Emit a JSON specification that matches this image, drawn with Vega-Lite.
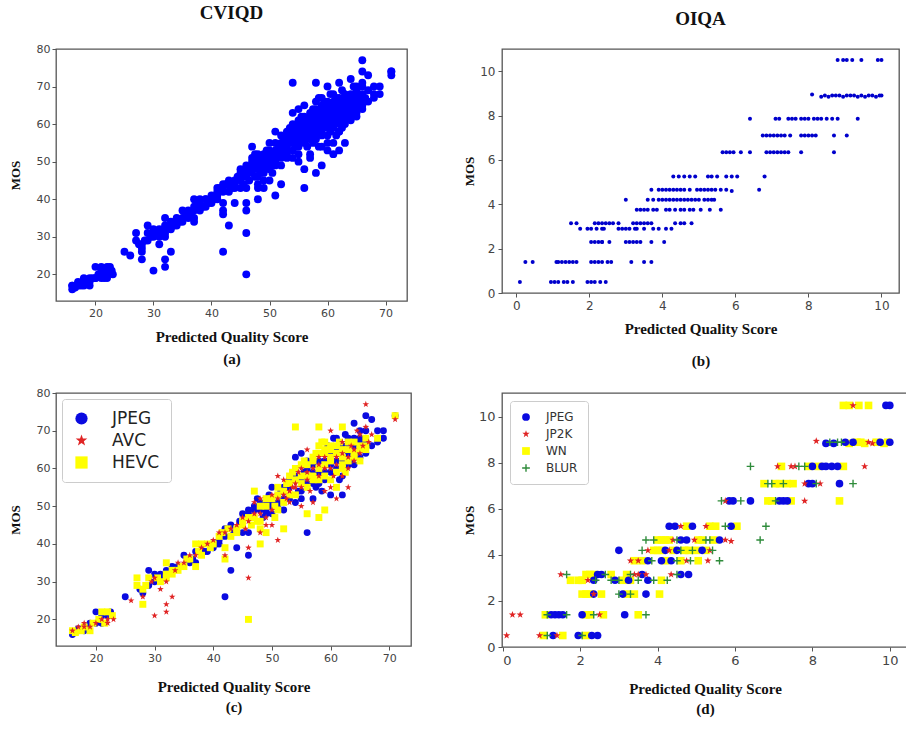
{
"$schema": "https://vega.github.io/schema/vega-lite/v6.json",
"padding": {"left": 8, "top": 3, "right": 0, "bottom": 0},
"config": {
 "view": {"stroke": "#555", "strokeWidth": 1.3},
 "axis": {"domain": false, "grid": false, "tickColor": "#555", "tickSize": 4, "labelColor": "#444", "labelFont": "DejaVu Sans", "labelFontSize": 11, "titleFont": "Liberation Serif", "titleFontWeight": "bold", "titleFontSize": 15, "titleColor": "#111"},
 "title": {"font": "Liberation Serif", "fontWeight": "bold", "fontSize": 19, "color": "#111"}
},
"datasets": {
"cv": [
{"x":16,"y":16,"t":"JPEG"},{"x":16,"y":17,"t":"AVC"},{"x":16.5,"y":16.5,"t":"HEVC"},{"x":16,"y":17,"t":"HEVC"},
{"x":17,"y":17,"t":"JPEG"},{"x":17,"y":18,"t":"AVC"},{"x":17.5,"y":17,"t":"HEVC"},{"x":17,"y":17.5,"t":"JPEG"},
{"x":18,"y":17,"t":"JPEG"},{"x":18,"y":19,"t":"AVC"},{"x":18,"y":18,"t":"HEVC"},{"x":18.5,"y":18,"t":"JPEG"},{"x":18,"y":18,"t":"AVC"},
{"x":19,"y":19,"t":"JPEG"},{"x":19,"y":17,"t":"HEVC"},{"x":19,"y":18,"t":"AVC"},{"x":19.5,"y":19,"t":"HEVC"},
{"x":20,"y":22,"t":"JPEG"},{"x":20,"y":19,"t":"JPEG"},{"x":20,"y":19,"t":"AVC"},{"x":20.5,"y":20,"t":"HEVC"},
{"x":21,"y":21,"t":"JPEG"},{"x":21,"y":22,"t":"HEVC"},{"x":21,"y":20,"t":"AVC"},{"x":21.5,"y":19,"t":"HEVC"},{"x":21,"y":19,"t":"JPEG"},
{"x":22,"y":22,"t":"HEVC"},{"x":22,"y":20,"t":"AVC"},{"x":22,"y":21,"t":"JPEG"},{"x":22,"y":19,"t":"AVC"},{"x":22.5,"y":22,"t":"JPEG"},
{"x":23,"y":20,"t":"AVC"},{"x":22.8,"y":21,"t":"HEVC"},
{"x":25,"y":26,"t":"JPEG"},{"x":26,"y":25,"t":"AVC"},
{"x":27,"y":31,"t":"HEVC"},{"x":27,"y":29,"t":"HEVC"},{"x":27.5,"y":28,"t":"JPEG"},
{"x":28,"y":28,"t":"HEVC"},{"x":28,"y":27,"t":"JPEG"},{"x":28,"y":24,"t":"HEVC"},{"x":28,"y":26,"t":"AVC"},{"x":28.5,"y":29,"t":"HEVC"},
{"x":29,"y":33,"t":"JPEG"},{"x":29,"y":29,"t":"JPEG"},{"x":29,"y":31,"t":"HEVC"},{"x":29.5,"y":30,"t":"AVC"},
{"x":30,"y":30,"t":"JPEG"},{"x":30,"y":32,"t":"JPEG"},{"x":30,"y":21,"t":"AVC"},{"x":30.5,"y":31,"t":"HEVC"},{"x":30,"y":31,"t":"AVC"},
{"x":31,"y":32,"t":"JPEG"},{"x":31,"y":28,"t":"AVC"},{"x":31,"y":30,"t":"HEVC"},{"x":31.5,"y":31,"t":"JPEG"},
{"x":32,"y":30,"t":"AVC"},{"x":32,"y":35,"t":"HEVC"},{"x":32,"y":31,"t":"HEVC"},{"x":32,"y":24,"t":"AVC"},{"x":32,"y":22,"t":"AVC"},{"x":32,"y":33,"t":"JPEG"},{"x":32,"y":32,"t":"HEVC"},
{"x":33,"y":26,"t":"AVC"},{"x":33,"y":34,"t":"JPEG"},{"x":33,"y":33,"t":"HEVC"},{"x":33,"y":32,"t":"HEVC"},{"x":33.5,"y":33,"t":"AVC"},
{"x":34,"y":34,"t":"JPEG"},{"x":34,"y":33,"t":"HEVC"},{"x":34,"y":35,"t":"AVC"},{"x":34.5,"y":34,"t":"HEVC"},
{"x":35,"y":37,"t":"JPEG"},{"x":35,"y":34,"t":"HEVC"},{"x":35,"y":35,"t":"AVC"},{"x":35.5,"y":36,"t":"HEVC"},
{"x":36,"y":35,"t":"JPEG"},{"x":36,"y":36,"t":"HEVC"},{"x":36,"y":37,"t":"AVC"},{"x":36.5,"y":36,"t":"JPEG"},
{"x":37,"y":35,"t":"JPEG"},{"x":37,"y":40,"t":"HEVC"},{"x":37,"y":34,"t":"HEVC"},{"x":37,"y":38,"t":"JPEG"},{"x":37,"y":37,"t":"AVC"},{"x":37.5,"y":38,"t":"HEVC"},
{"x":38,"y":38,"t":"JPEG"},{"x":38,"y":39,"t":"AVC"},{"x":38,"y":37,"t":"HEVC"},{"x":38.5,"y":38,"t":"JPEG"},{"x":38,"y":40,"t":"HEVC"},
{"x":39,"y":40,"t":"HEVC"},{"x":39,"y":38,"t":"JPEG"},{"x":39,"y":40,"t":"AVC"},{"x":39.5,"y":39,"t":"HEVC"},
{"x":40,"y":40,"t":"HEVC"},{"x":40,"y":39,"t":"JPEG"},{"x":40,"y":41,"t":"AVC"},{"x":40.5,"y":40,"t":"JPEG"},
{"x":41,"y":40,"t":"JPEG"},{"x":41,"y":41,"t":"JPEG"},{"x":41,"y":43,"t":"AVC"},{"x":41,"y":42,"t":"HEVC"},{"x":41.5,"y":43,"t":"HEVC"},
{"x":42,"y":43,"t":"AVC"},{"x":42,"y":44,"t":"JPEG"},{"x":42,"y":42,"t":"JPEG"},{"x":42,"y":36,"t":"HEVC"},{"x":42,"y":37,"t":"AVC"},{"x":42,"y":26,"t":"JPEG"},{"x":42,"y":39,"t":"HEVC"},{"x":42.5,"y":44,"t":"HEVC"},
{"x":43,"y":45,"t":"JPEG"},{"x":43,"y":33,"t":"JPEG"},{"x":43,"y":42,"t":"HEVC"},{"x":43,"y":44,"t":"AVC"},{"x":43.5,"y":43,"t":"JPEG"},
{"x":44,"y":39,"t":"JPEG"},{"x":44,"y":44,"t":"HEVC"},{"x":44,"y":45,"t":"AVC"},{"x":44,"y":43,"t":"HEVC"},{"x":44.5,"y":46,"t":"JPEG"},
{"x":45,"y":48,"t":"JPEG"},{"x":45,"y":43,"t":"JPEG"},{"x":45,"y":45,"t":"HEVC"},{"x":45,"y":47,"t":"AVC"},{"x":45,"y":46,"t":"HEVC"},{"x":45.5,"y":44,"t":"AVC"},
{"x":46,"y":49,"t":"JPEG"},{"x":46,"y":43,"t":"JPEG"},{"x":46,"y":39,"t":"AVC"},{"x":46,"y":37,"t":"JPEG"},{"x":46,"y":31,"t":"AVC"},{"x":46,"y":20,"t":"HEVC"},{"x":46,"y":46,"t":"AVC"},{"x":46,"y":47,"t":"HEVC"},{"x":46.5,"y":45,"t":"HEVC"},{"x":46,"y":48,"t":"JPEG"},
{"x":47,"y":51,"t":"AVC"},{"x":47,"y":54,"t":"HEVC"},{"x":47,"y":47,"t":"HEVC"},{"x":47,"y":49,"t":"JPEG"},{"x":47,"y":50,"t":"JPEG"},{"x":47,"y":48,"t":"AVC"},{"x":47.5,"y":46,"t":"HEVC"},{"x":47.5,"y":52,"t":"JPEG"},
{"x":48,"y":46,"t":"HEVC"},{"x":48,"y":44,"t":"HEVC"},{"x":48,"y":40,"t":"HEVC"},{"x":48,"y":43,"t":"AVC"},{"x":48,"y":49,"t":"JPEG"},{"x":48,"y":50,"t":"HEVC"},{"x":48,"y":51,"t":"JPEG"},{"x":48,"y":48,"t":"AVC"},{"x":48,"y":52,"t":"AVC"},{"x":48.5,"y":47,"t":"JPEG"},
{"x":49,"y":43,"t":"HEVC"},{"x":49,"y":49,"t":"JPEG"},{"x":49,"y":48,"t":"JPEG"},{"x":49,"y":45,"t":"AVC"},{"x":49,"y":50,"t":"HEVC"},{"x":49,"y":51,"t":"JPEG"},{"x":49,"y":52,"t":"HEVC"},{"x":49,"y":47,"t":"AVC"},{"x":49.5,"y":53,"t":"JPEG"},
{"x":50,"y":50,"t":"JPEG"},{"x":50,"y":48,"t":"JPEG"},{"x":50,"y":51,"t":"JPEG"},{"x":50,"y":55,"t":"JPEG"},{"x":50,"y":45,"t":"AVC"},{"x":50,"y":52,"t":"HEVC"},{"x":50,"y":49,"t":"AVC"},{"x":50,"y":53,"t":"AVC"},{"x":50.5,"y":50,"t":"HEVC"},{"x":50.5,"y":47,"t":"HEVC"},
{"x":51,"y":51,"t":"JPEG"},{"x":51,"y":50,"t":"JPEG"},{"x":51,"y":41,"t":"AVC"},{"x":51,"y":58,"t":"AVC"},{"x":51,"y":53,"t":"HEVC"},{"x":51,"y":52,"t":"AVC"},{"x":51,"y":55,"t":"HEVC"},{"x":51,"y":49,"t":"HEVC"},{"x":51.5,"y":54,"t":"JPEG"},
{"x":52,"y":44,"t":"HEVC"},{"x":52,"y":49,"t":"JPEG"},{"x":52,"y":57,"t":"AVC"},{"x":52,"y":52,"t":"JPEG"},{"x":52,"y":54,"t":"HEVC"},{"x":52,"y":53,"t":"AVC"},{"x":52,"y":55,"t":"JPEG"},{"x":52,"y":51,"t":"HEVC"},{"x":52.5,"y":56,"t":"HEVC"},{"x":52.5,"y":52,"t":"AVC"},
{"x":53,"y":52,"t":"JPEG"},{"x":53,"y":54,"t":"AVC"},{"x":53,"y":56,"t":"HEVC"},{"x":53,"y":53,"t":"HEVC"},{"x":53,"y":55,"t":"JPEG"},{"x":53,"y":58,"t":"HEVC"},{"x":53,"y":57,"t":"JPEG"},{"x":53,"y":51,"t":"AVC"},{"x":53.5,"y":55,"t":"AVC"},{"x":53.5,"y":59,"t":"HEVC"},
{"x":54,"y":71,"t":"HEVC"},{"x":54,"y":63,"t":"JPEG"},{"x":54,"y":51,"t":"JPEG"},{"x":54,"y":55,"t":"AVC"},{"x":54,"y":57,"t":"HEVC"},{"x":54,"y":58,"t":"JPEG"},{"x":54,"y":56,"t":"AVC"},{"x":54,"y":60,"t":"HEVC"},{"x":54,"y":53,"t":"HEVC"},{"x":54.5,"y":59,"t":"AVC"},{"x":54.5,"y":54,"t":"JPEG"},
{"x":55,"y":64,"t":"JPEG"},{"x":55,"y":52,"t":"JPEG"},{"x":55,"y":54,"t":"JPEG"},{"x":55,"y":50,"t":"AVC"},{"x":55,"y":57,"t":"JPEG"},{"x":55,"y":58,"t":"HEVC"},{"x":55,"y":60,"t":"AVC"},{"x":55,"y":56,"t":"HEVC"},{"x":55,"y":61,"t":"HEVC"},{"x":55,"y":55,"t":"AVC"},{"x":55.5,"y":59,"t":"JPEG"},{"x":55.5,"y":62,"t":"HEVC"},
{"x":56,"y":43,"t":"JPEG"},{"x":56,"y":48,"t":"HEVC"},{"x":56,"y":65,"t":"AVC"},{"x":56,"y":56,"t":"JPEG"},{"x":56,"y":58,"t":"HEVC"},{"x":56,"y":60,"t":"JPEG"},{"x":56,"y":57,"t":"AVC"},{"x":56,"y":59,"t":"AVC"},{"x":56,"y":61,"t":"HEVC"},{"x":56,"y":55,"t":"HEVC"},{"x":56,"y":62,"t":"JPEG"},{"x":56.5,"y":54,"t":"AVC"},
{"x":57,"y":52,"t":"JPEG"},{"x":57,"y":51,"t":"AVC"},{"x":57,"y":56,"t":"JPEG"},{"x":57,"y":58,"t":"HEVC"},{"x":57,"y":60,"t":"AVC"},{"x":57,"y":62,"t":"HEVC"},{"x":57,"y":59,"t":"JPEG"},{"x":57,"y":57,"t":"HEVC"},{"x":57,"y":61,"t":"JPEG"},{"x":57,"y":63,"t":"HEVC"},{"x":57.5,"y":55,"t":"JPEG"},{"x":57.5,"y":64,"t":"HEVC"},
{"x":58,"y":71,"t":"HEVC"},{"x":58,"y":47,"t":"HEVC"},{"x":58,"y":56,"t":"JPEG"},{"x":58,"y":58,"t":"AVC"},{"x":58,"y":60,"t":"HEVC"},{"x":58,"y":62,"t":"JPEG"},{"x":58,"y":64,"t":"HEVC"},{"x":58,"y":66,"t":"HEVC"},{"x":58,"y":59,"t":"JPEG"},{"x":58,"y":61,"t":"AVC"},{"x":58,"y":63,"t":"AVC"},{"x":58,"y":57,"t":"HEVC"},{"x":58.5,"y":67,"t":"HEVC"},{"x":58.5,"y":54,"t":"JPEG"},
{"x":59,"y":49,"t":"HEVC"},{"x":59,"y":57,"t":"JPEG"},{"x":59,"y":54,"t":"AVC"},{"x":59,"y":59,"t":"JPEG"},{"x":59,"y":61,"t":"HEVC"},{"x":59,"y":63,"t":"AVC"},{"x":59,"y":65,"t":"HEVC"},{"x":59,"y":60,"t":"AVC"},{"x":59,"y":62,"t":"JPEG"},{"x":59,"y":64,"t":"HEVC"},{"x":59,"y":67,"t":"HEVC"},{"x":59,"y":58,"t":"HEVC"},{"x":59.5,"y":66,"t":"JPEG"},
{"x":60,"y":59,"t":"JPEG"},{"x":60,"y":61,"t":"JPEG"},{"x":60,"y":53,"t":"JPEG"},{"x":60,"y":70,"t":"AVC"},{"x":60,"y":55,"t":"AVC"},{"x":60,"y":63,"t":"HEVC"},{"x":60,"y":65,"t":"HEVC"},{"x":60,"y":60,"t":"AVC"},{"x":60,"y":62,"t":"HEVC"},{"x":60,"y":64,"t":"JPEG"},{"x":60,"y":66,"t":"HEVC"},{"x":60,"y":57,"t":"HEVC"},{"x":60.5,"y":68,"t":"JPEG"},{"x":60.5,"y":58,"t":"AVC"},
{"x":61,"y":52,"t":"AVC"},{"x":61,"y":55,"t":"HEVC"},{"x":61,"y":60,"t":"JPEG"},{"x":61,"y":62,"t":"JPEG"},{"x":61,"y":64,"t":"HEVC"},{"x":61,"y":66,"t":"HEVC"},{"x":61,"y":61,"t":"AVC"},{"x":61,"y":63,"t":"AVC"},{"x":61,"y":65,"t":"JPEG"},{"x":61,"y":59,"t":"HEVC"},{"x":61,"y":68,"t":"JPEG"},{"x":61.5,"y":67,"t":"HEVC"},{"x":61.5,"y":57,"t":"JPEG"},
{"x":62,"y":53,"t":"JPEG"},{"x":62,"y":71,"t":"HEVC"},{"x":62,"y":58,"t":"JPEG"},{"x":62,"y":58,"t":"AVC"},{"x":62,"y":60,"t":"HEVC"},{"x":62,"y":62,"t":"JPEG"},{"x":62,"y":64,"t":"AVC"},{"x":62,"y":66,"t":"JPEG"},{"x":62,"y":61,"t":"HEVC"},{"x":62,"y":63,"t":"HEVC"},{"x":62,"y":65,"t":"HEVC"},{"x":62,"y":67,"t":"AVC"},{"x":62.5,"y":69,"t":"JPEG"},{"x":62.5,"y":59,"t":"HEVC"},
{"x":63,"y":55,"t":"AVC"},{"x":63,"y":64,"t":"JPEG"},{"x":63,"y":66,"t":"JPEG"},{"x":63,"y":61,"t":"JPEG"},{"x":63,"y":60,"t":"AVC"},{"x":63,"y":62,"t":"HEVC"},{"x":63,"y":63,"t":"AVC"},{"x":63,"y":65,"t":"HEVC"},{"x":63,"y":67,"t":"HEVC"},{"x":63,"y":68,"t":"JPEG"},{"x":63.5,"y":66,"t":"AVC"},{"x":63.5,"y":62,"t":"JPEG"},
{"x":64,"y":72,"t":"JPEG"},{"x":64,"y":61,"t":"JPEG"},{"x":64,"y":63,"t":"HEVC"},{"x":64,"y":65,"t":"AVC"},{"x":64,"y":66,"t":"JPEG"},{"x":64,"y":64,"t":"HEVC"},{"x":64,"y":67,"t":"HEVC"},{"x":64,"y":68,"t":"JPEG"},{"x":64,"y":62,"t":"AVC"},{"x":64.5,"y":70,"t":"AVC"},{"x":64.5,"y":64,"t":"JPEG"},
{"x":65,"y":63,"t":"JPEG"},{"x":65,"y":68,"t":"JPEG"},{"x":65,"y":66,"t":"HEVC"},{"x":65,"y":64,"t":"AVC"},{"x":65,"y":65,"t":"HEVC"},{"x":65,"y":67,"t":"JPEG"},{"x":65,"y":69,"t":"AVC"},{"x":65,"y":70,"t":"JPEG"},{"x":65,"y":62,"t":"HEVC"},{"x":65.5,"y":66,"t":"AVC"},
{"x":66,"y":74,"t":"JPEG"},{"x":66,"y":77,"t":"AVC"},{"x":66,"y":70,"t":"JPEG"},{"x":66,"y":66,"t":"HEVC"},{"x":66,"y":65,"t":"HEVC"},{"x":66,"y":67,"t":"JPEG"},{"x":66,"y":68,"t":"HEVC"},{"x":66,"y":71,"t":"AVC"},{"x":66,"y":64,"t":"JPEG"},{"x":66.5,"y":67,"t":"AVC"},
{"x":67,"y":73,"t":"JPEG"},{"x":67,"y":66,"t":"JPEG"},{"x":67,"y":69,"t":"AVC"},
{"x":68,"y":70,"t":"JPEG"},{"x":68,"y":67,"t":"JPEG"},{"x":68,"y":68,"t":"HEVC"},
{"x":69,"y":70,"t":"JPEG"},{"x":69,"y":68,"t":"JPEG"},
{"x":71,"y":74,"t":"HEVC"},{"x":71,"y":73,"t":"AVC"},{"x":71,"y":74,"t":"JPEG"}
],
"oi": [
{"x":0.1,"y":0.5,"t":"JP2K"},{"x":0.95,"y":0.5,"t":"JP2K"},{"x":1.05,"y":0.5,"t":"WN"},{"x":1.15,"y":0.5,"t":"BLUR"},{"x":1.3,"y":0.5,"t":"JPEG"},{"x":1.4,"y":0.5,"t":"JP2K"},{"x":1.55,"y":0.5,"t":"WN"},{"x":1.95,"y":0.5,"t":"JPEG"},{"x":2.05,"y":0.5,"t":"BLUR"},{"x":2.15,"y":0.5,"t":"WN"},{"x":2.3,"y":0.5,"t":"JPEG"},{"x":2.45,"y":0.5,"t":"JPEG"},
{"x":0.25,"y":1.4,"t":"JP2K"},{"x":0.45,"y":1.4,"t":"JP2K"},{"x":1.1,"y":1.4,"t":"WN"},{"x":1.15,"y":1.4,"t":"BLUR"},{"x":1.25,"y":1.4,"t":"JPEG"},{"x":1.35,"y":1.4,"t":"JPEG"},{"x":1.45,"y":1.4,"t":"JPEG"},{"x":1.55,"y":1.4,"t":"JPEG"},{"x":1.65,"y":1.4,"t":"BLUR"},{"x":2.05,"y":1.4,"t":"JPEG"},{"x":2.15,"y":1.4,"t":"WN"},{"x":2.25,"y":1.4,"t":"WN"},{"x":2.35,"y":1.4,"t":"BLUR"},{"x":2.5,"y":1.4,"t":"JP2K"},{"x":2.6,"y":1.4,"t":"WN"},{"x":3.15,"y":1.4,"t":"JPEG"},{"x":3.5,"y":1.4,"t":"WN"},{"x":3.7,"y":1.4,"t":"BLUR"},
{"x":2.05,"y":2.3,"t":"WN"},{"x":2.15,"y":2.3,"t":"WN"},{"x":2.25,"y":2.3,"t":"WN"},{"x":2.35,"y":2.3,"t":"JP2K"},{"x":2.35,"y":2.3,"t":"JPEG"},{"x":2.55,"y":2.3,"t":"WN"},{"x":3.0,"y":2.3,"t":"BLUR"},{"x":3.1,"y":2.3,"t":"JPEG"},{"x":3.2,"y":2.3,"t":"WN"},{"x":3.3,"y":2.3,"t":"BLUR"},{"x":3.4,"y":2.3,"t":"WN"},{"x":3.7,"y":2.3,"t":"JPEG"},{"x":4.05,"y":2.3,"t":"WN"},
{"x":1.75,"y":2.9,"t":"WN"},{"x":1.95,"y":2.9,"t":"WN"},{"x":2.05,"y":2.9,"t":"WN"},{"x":2.2,"y":2.9,"t":"JP2K"},{"x":2.35,"y":2.9,"t":"JPEG"},{"x":2.4,"y":2.9,"t":"BLUR"},{"x":2.8,"y":2.9,"t":"BLUR"},{"x":2.9,"y":2.9,"t":"JPEG"},{"x":3.0,"y":2.9,"t":"BLUR"},{"x":3.1,"y":2.9,"t":"WN"},{"x":3.25,"y":2.9,"t":"JPEG"},{"x":3.3,"y":2.9,"t":"WN"},{"x":3.5,"y":2.9,"t":"BLUR"},{"x":3.75,"y":2.9,"t":"JPEG"},{"x":3.9,"y":2.9,"t":"BLUR"},{"x":4.1,"y":2.9,"t":"WN"},{"x":4.25,"y":2.9,"t":"BLUR"},
{"x":1.5,"y":3.15,"t":"JP2K"},{"x":1.65,"y":3.15,"t":"BLUR"},{"x":2.15,"y":3.15,"t":"WN"},{"x":2.25,"y":3.15,"t":"WN"},{"x":2.35,"y":3.15,"t":"WN"},{"x":2.45,"y":3.15,"t":"JPEG"},{"x":2.55,"y":3.15,"t":"JPEG"},{"x":2.65,"y":3.15,"t":"BLUR"},{"x":2.8,"y":3.15,"t":"WN"},{"x":3.2,"y":3.15,"t":"WN"},{"x":3.3,"y":3.15,"t":"BLUR"},{"x":3.4,"y":3.15,"t":"JP2K"},{"x":3.5,"y":3.15,"t":"JP2K"},{"x":3.6,"y":3.15,"t":"JPEG"},{"x":3.7,"y":3.15,"t":"JP2K"},{"x":4.35,"y":3.15,"t":"JP2K"},{"x":4.5,"y":3.15,"t":"BLUR"},{"x":4.6,"y":3.15,"t":"JPEG"},{"x":4.8,"y":3.15,"t":"JPEG"},
{"x":3.3,"y":3.75,"t":"JP2K"},{"x":3.4,"y":3.75,"t":"WN"},{"x":3.5,"y":3.75,"t":"JP2K"},{"x":3.6,"y":3.75,"t":"WN"},{"x":3.75,"y":3.75,"t":"JPEG"},{"x":3.85,"y":3.75,"t":"BLUR"},{"x":4.1,"y":3.75,"t":"JPEG"},{"x":4.2,"y":3.75,"t":"WN"},{"x":4.35,"y":3.75,"t":"JPEG"},{"x":4.5,"y":3.75,"t":"BLUR"},{"x":4.6,"y":3.75,"t":"WN"},{"x":4.75,"y":3.75,"t":"JP2K"},{"x":4.85,"y":3.75,"t":"BLUR"},{"x":5.05,"y":3.75,"t":"WN"},{"x":5.3,"y":3.75,"t":"JP2K"},{"x":5.6,"y":3.75,"t":"BLUR"},
{"x":3.0,"y":4.2,"t":"JPEG"},{"x":3.6,"y":4.2,"t":"BLUR"},{"x":3.75,"y":4.2,"t":"JP2K"},{"x":3.9,"y":4.2,"t":"WN"},{"x":4.0,"y":4.2,"t":"WN"},{"x":4.1,"y":4.2,"t":"WN"},{"x":4.2,"y":4.2,"t":"JPEG"},{"x":4.3,"y":4.2,"t":"JP2K"},{"x":4.4,"y":4.2,"t":"WN"},{"x":4.5,"y":4.2,"t":"JPEG"},{"x":4.6,"y":4.2,"t":"BLUR"},{"x":4.7,"y":4.2,"t":"WN"},{"x":4.8,"y":4.2,"t":"WN"},{"x":4.9,"y":4.2,"t":"BLUR"},{"x":5.0,"y":4.2,"t":"WN"},{"x":5.15,"y":4.2,"t":"JPEG"},{"x":5.25,"y":4.2,"t":"WN"},{"x":5.35,"y":4.2,"t":"JP2K"},{"x":5.42,"y":4.2,"t":"BLUR"},
{"x":3.7,"y":4.65,"t":"BLUR"},{"x":3.9,"y":4.65,"t":"BLUR"},{"x":4.0,"y":4.65,"t":"WN"},{"x":4.1,"y":4.65,"t":"WN"},{"x":4.2,"y":4.65,"t":"WN"},{"x":4.3,"y":4.65,"t":"WN"},{"x":4.4,"y":4.65,"t":"JP2K"},{"x":4.5,"y":4.65,"t":"BLUR"},{"x":4.6,"y":4.65,"t":"JPEG"},{"x":4.75,"y":4.65,"t":"JPEG"},{"x":4.95,"y":4.65,"t":"JP2K"},{"x":5.05,"y":4.65,"t":"WN"},{"x":5.15,"y":4.65,"t":"WN"},{"x":5.25,"y":4.65,"t":"BLUR"},{"x":5.35,"y":4.65,"t":"BLUR"},{"x":5.45,"y":4.65,"t":"WN"},{"x":5.6,"y":4.65,"t":"JPEG"},{"x":5.75,"y":4.65,"t":"JP2K"},{"x":5.9,"y":4.6,"t":"JP2K"},{"x":6.65,"y":4.65,"t":"BLUR"},
{"x":4.3,"y":5.25,"t":"JPEG"},{"x":4.45,"y":5.25,"t":"JPEG"},{"x":4.6,"y":5.25,"t":"JP2K"},{"x":4.75,"y":5.25,"t":"WN"},{"x":4.9,"y":5.25,"t":"JPEG"},{"x":5.25,"y":5.25,"t":"JP2K"},{"x":5.35,"y":5.25,"t":"WN"},{"x":5.5,"y":5.25,"t":"WN"},{"x":5.75,"y":5.25,"t":"BLUR"},{"x":5.9,"y":5.25,"t":"JPEG"},{"x":6.05,"y":5.25,"t":"WN"},{"x":6.8,"y":5.25,"t":"BLUR"},
{"x":5.65,"y":6.35,"t":"BLUR"},{"x":5.75,"y":6.35,"t":"JP2K"},{"x":5.85,"y":6.35,"t":"JPEG"},{"x":5.95,"y":6.35,"t":"JPEG"},{"x":6.15,"y":6.35,"t":"BLUR"},{"x":6.4,"y":6.35,"t":"JPEG"},{"x":6.85,"y":6.35,"t":"WN"},{"x":6.95,"y":6.35,"t":"WN"},{"x":7.05,"y":6.35,"t":"BLUR"},{"x":7.15,"y":6.35,"t":"JPEG"},{"x":7.25,"y":6.35,"t":"JPEG"},{"x":7.35,"y":6.35,"t":"JPEG"},{"x":7.45,"y":6.35,"t":"WN"},{"x":7.8,"y":6.35,"t":"JP2K"},{"x":8.7,"y":6.35,"t":"WN"},
{"x":6.75,"y":7.1,"t":"WN"},{"x":6.85,"y":7.1,"t":"BLUR"},{"x":6.95,"y":7.1,"t":"BLUR"},{"x":7.05,"y":7.1,"t":"WN"},{"x":7.15,"y":7.1,"t":"WN"},{"x":7.25,"y":7.1,"t":"BLUR"},{"x":7.35,"y":7.1,"t":"WN"},{"x":7.5,"y":7.1,"t":"WN"},{"x":7.8,"y":7.1,"t":"JP2K"},{"x":7.9,"y":7.1,"t":"JPEG"},{"x":8.0,"y":7.1,"t":"JPEG"},{"x":8.1,"y":7.1,"t":"BLUR"},{"x":8.2,"y":7.1,"t":"JP2K"},{"x":8.7,"y":7.1,"t":"JPEG"},{"x":9.05,"y":7.1,"t":"BLUR"},
{"x":6.4,"y":7.85,"t":"BLUR"},{"x":7.1,"y":7.85,"t":"JP2K"},{"x":7.2,"y":7.85,"t":"WN"},{"x":7.45,"y":7.85,"t":"JP2K"},{"x":7.55,"y":7.85,"t":"JP2K"},{"x":7.65,"y":7.85,"t":"BLUR"},{"x":7.8,"y":7.85,"t":"BLUR"},{"x":7.9,"y":7.85,"t":"WN"},{"x":8.0,"y":7.85,"t":"JPEG"},{"x":8.15,"y":7.85,"t":"WN"},{"x":8.25,"y":7.85,"t":"JPEG"},{"x":8.35,"y":7.85,"t":"JPEG"},{"x":8.5,"y":7.85,"t":"JPEG"},{"x":8.65,"y":7.85,"t":"JPEG"},{"x":8.8,"y":7.85,"t":"WN"},{"x":9.35,"y":7.85,"t":"JP2K"},
{"x":8.1,"y":8.95,"t":"JP2K"},{"x":8.35,"y":8.85,"t":"JPEG"},{"x":8.45,"y":8.9,"t":"BLUR"},{"x":8.55,"y":8.85,"t":"JPEG"},{"x":8.65,"y":8.9,"t":"BLUR"},{"x":8.75,"y":8.9,"t":"BLUR"},{"x":8.85,"y":8.9,"t":"JPEG"},{"x":8.95,"y":8.85,"t":"WN"},{"x":9.05,"y":8.9,"t":"JPEG"},{"x":9.15,"y":8.9,"t":"WN"},{"x":9.25,"y":8.9,"t":"WN"},{"x":9.35,"y":8.85,"t":"WN"},{"x":9.45,"y":8.9,"t":"JP2K"},{"x":9.55,"y":8.85,"t":"JP2K"},{"x":9.65,"y":8.9,"t":"WN"},{"x":9.75,"y":8.9,"t":"JPEG"},{"x":9.85,"y":8.85,"t":"WN"},{"x":9.95,"y":8.9,"t":"WN"},{"x":10.0,"y":8.9,"t":"JPEG"},
{"x":8.8,"y":10.5,"t":"WN"},{"x":8.95,"y":10.5,"t":"WN"},{"x":9.05,"y":10.5,"t":"JP2K"},{"x":9.2,"y":10.5,"t":"WN"},{"x":9.45,"y":10.5,"t":"WN"},{"x":9.9,"y":10.5,"t":"JPEG"},{"x":10.0,"y":10.5,"t":"JPEG"}
]
},
"resolve": {"scale": {"color": "independent", "shape": "independent"}},
"columns": 2,
"align": "each",
"spacing": {"row": 17, "column": 50},
"concat": [
   {
    "width": 351, "height": 252,
    "title": {"text": "CVIQD", "anchor": "middle", "offset": 20},
    "data": {"name": "cv"},
    "mark": {"type": "circle", "size": 62, "color": "#0000ff", "opacity": 1},
    "encoding": {
     "x": {"field": "x", "type": "quantitative", "scale": {"domain": [13.2, 73.7], "nice": false, "zero": false}, "axis": {"values": [20, 30, 40, 50, 60, 70], "title": ["Predicted Quality Score", "(a)"], "titleLineHeight": 22, "titlePadding": 11, "labelPadding": 2}},
     "y": {"field": "y", "type": "quantitative", "scale": {"domain": [12.9, 80], "nice": false, "zero": false}, "axis": {"values": [20, 30, 40, 50, 60, 70, 80], "title": "MOS", "titleFontSize": 13, "titlePadding": 14, "labelPadding": 2}}
    }
   },
   {
    "width": 397, "height": 244,
    "title": {"text": "OIQA", "anchor": "middle", "offset": 20},
    "data": {"name": "oi"},
    "mark": {"type": "circle", "size": 16, "color": "#0000cc", "opacity": 1},
    "encoding": {
     "x": {"field": "x", "type": "quantitative", "scale": {"domain": [-0.39, 10.48], "nice": false, "zero": false}, "axis": {"values": [0, 2, 4, 6, 8, 10], "title": ["Predicted Quality Score", "(b)"], "titleLineHeight": 32, "titlePadding": 10, "labelPadding": 3, "labelFontSize": 12}},
     "y": {"field": "y", "type": "quantitative", "scale": {"domain": [0, 11.0], "nice": false, "zero": false}, "axis": {"values": [0, 2, 4, 6, 8, 10], "title": "MOS", "titleFontSize": 13, "titlePadding": 3, "labelPadding": 3, "labelFontSize": 12}}
    }
   },
   {
    "width": 355, "height": 253,
    "data": {"name": "cv"},
    "mark": {"type": "point", "filled": true, "size": 48, "opacity": 1},
    "encoding": {
     "x": {"field": "x", "type": "quantitative", "scale": {"domain": [13.2, 73.7], "nice": false, "zero": false}, "axis": {"values": [20, 30, 40, 50, 60, 70], "title": ["Predicted Quality Score", "", "(c)"], "titleLineHeight": 20, "titlePadding": 16, "labelPadding": 2}},
     "y": {"field": "y", "type": "quantitative", "scale": {"domain": [12.95, 80], "nice": false, "zero": false}, "axis": {"values": [20, 30, 40, 50, 60, 70, 80], "title": "MOS", "titleFontSize": 13, "titlePadding": 14, "labelPadding": 2}},
     "color": {"field": "t", "type": "nominal", "scale": {"domain": ["JPEG", "AVC", "HEVC"], "range": ["#0a0ae0", "#e02424", "#ffff00"]}, "legend": {"title": null, "orient": "top-left", "offset": 6, "padding": 11, "symbolSize": 150, "labelFontSize": 17, "labelFont": "DejaVu Sans", "labelColor": "#222", "labelOffset": 22, "rowPadding": 4, "strokeColor": "#ccc", "fillColor": "#ffffff", "cornerRadius": 3}},
     "shape": {"field": "t", "type": "nominal", "scale": {"domain": ["JPEG", "AVC", "HEVC"], "range": ["circle", "M0,-1L0.235,-0.324L0.951,-0.309L0.38,0.124L0.588,0.809L0,0.4L-0.588,0.809L-0.38,0.124L-0.951,-0.309L-0.235,-0.324Z", "square"]}, "legend": {"title": null, "orient": "top-left", "offset": 6, "padding": 11, "symbolSize": 150, "labelFontSize": 17, "labelFont": "DejaVu Sans", "labelColor": "#222", "labelOffset": 22, "rowPadding": 4, "strokeColor": "#ccc", "fillColor": "#ffffff", "cornerRadius": 3}},
     "order": {"field": "t", "type": "nominal", "sort": "descending"}
    }
   },
   {
    "width": 406, "height": 254,
    "data": {"name": "oi"},
    "mark": {"type": "point", "filled": true, "size": 58, "opacity": 1},
    "encoding": {
     "x": {"field": "x", "type": "quantitative", "scale": {"domain": [-0.02, 10.47], "nice": false, "zero": false}, "axis": {"values": [0, 2, 4, 6, 8, 10], "title": ["Predicted Quality Score", "", "(d)"], "titleLineHeight": 20, "titlePadding": 14, "labelPadding": 3, "labelFontSize": 13}},
     "y": {"field": "y", "type": "quantitative", "scale": {"domain": [0, 11.04], "nice": false, "zero": false}, "axis": {"values": [0, 2, 4, 6, 8, 10], "title": "MOS", "titleFontSize": 13, "titlePadding": 2, "labelPadding": 3, "labelFontSize": 13}},
     "color": {"field": "t", "type": "nominal", "scale": {"domain": ["JPEG", "JP2K", "WN", "BLUR"], "range": ["#0a0ae0", "#e02424", "#ffff00", "#2e8b3a"]}, "legend": {"title": null, "orient": "top-left", "offset": 8, "padding": 10, "symbolSize": 60, "labelFontSize": 12, "labelFont": "DejaVu Sans", "labelColor": "#333", "labelOffset": 14, "rowPadding": 5, "strokeColor": "#ccc", "fillColor": "#ffffff", "cornerRadius": 3}},
     "shape": {"field": "t", "type": "nominal", "scale": {"domain": ["JPEG", "JP2K", "WN", "BLUR"], "range": ["circle", "M0,-1L0.235,-0.324L0.951,-0.309L0.38,0.124L0.588,0.809L0,0.4L-0.588,0.809L-0.38,0.124L-0.951,-0.309L-0.235,-0.324Z", "square", "M-1,-0.18H-0.18V-1H0.18V-0.18H1V0.18H0.18V1H-0.18V0.18H-1Z"]}, "legend": {"title": null, "orient": "top-left", "offset": 8, "padding": 10, "symbolSize": 60, "labelFontSize": 12, "labelFont": "DejaVu Sans", "labelColor": "#333", "labelOffset": 14, "rowPadding": 5, "strokeColor": "#ccc", "fillColor": "#ffffff", "cornerRadius": 3}},
     "order": {"field": "t", "type": "nominal", "sort": "descending"}
    }
   }
]
}
